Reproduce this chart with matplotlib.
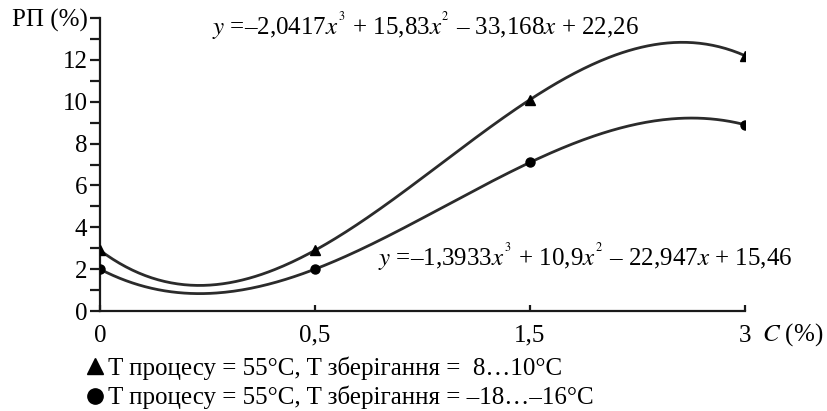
import numpy as np
import matplotlib
matplotlib.use("Agg")
import matplotlib.pyplot as plt
from matplotlib.lines import Line2D

plt.rcParams['font.family'] = ['Liberation Serif', 'DejaVu Serif']
plt.rcParams['mathtext.fontset'] = 'stix'

# ---- data ----
categories = ["0", "0,5", "1,5", "3"]
series_a = [2.9, 2.9, 10.1, 12.2]   # triangles
series_b = [2.0, 2.0, 7.1, 8.9]     # circles
label_a = "T процесу = 55°C, T зберігання =  8…10°C"
label_b = "T процесу = 55°C, T зберігання = –18…–16°C"
eq_a = r"$y$ =–2,0417$x^{{}^3}$ + 15,83$x^{{}^2}$ – 33,168$x$ + 22,26"
eq_b = r"$y$ =–1,3933$x^{{}^3}$ + 10,9$x^{{}^2}$ – 22,947$x$ + 15,46"
y_major = [0, 2, 4, 6, 8, 10, 12, 14]
y_labels = ["0", "2", "4", "6", "8", "10", "12", "РП (%)"]
y_minor = [1, 3, 5, 7, 9, 11, 13]

FS = 18
LC = "#2b2b2b"

fig = plt.figure(figsize=(8.28, 4.11), dpi=100)
ax = fig.add_axes([100/828, 100/411, 645/828, 293/411])

x = np.arange(1, len(categories) + 1)
xs = np.linspace(1, len(categories), 300)
for vals, mk, ms in [(series_a, '^', 6.5), (series_b, 'o', 6.5)]:
    coef = np.polyfit(x, vals, 3)
    ax.plot(xs, np.polyval(coef, xs), color=LC, lw=2, zorder=2)
    ax.plot(x, vals, ls='none', marker=mk, ms=ms, color='black', zorder=3)

ax.set_xlim(1, len(categories))
ax.set_ylim(0, 14)
ax.set_xticks(x)
ax.set_xticklabels(categories, fontsize=FS)
ax.set_yticks(y_major)
ax.set_yticklabels(y_labels, fontsize=FS)
ax.set_yticks(y_minor, minor=True)

for s in ['top', 'right']:
    ax.spines[s].set_visible(False)
for s in ['left', 'bottom']:
    ax.spines[s].set_linewidth(1.6)
    ax.spines[s].set_color('#1a1a1a')

ax.tick_params(axis='y', which='both', direction='out', length=7, width=1.6,
               color='#1a1a1a', pad=2)
ax.tick_params(axis='x', direction='in', length=4, width=1.6, color='#1a1a1a', pad=10)

ax.text(1.52, 13.19, eq_a, fontsize=FS, va='baseline', ha='left')
ax.text(2.293, 2.15, eq_b, fontsize=FS, va='baseline', ha='left')

fig.text(762/828, 1 - 335/411, "$C$ (%)", fontsize=FS, va='center', ha='left')

handles = [Line2D([], [], ls='none', marker='^', ms=11, color='black'),
           Line2D([], [], ls='none', marker='o', ms=11, color='black')]
fig.legend(handles, [label_a, label_b], loc='upper left',
           bbox_to_anchor=(88/828, 1 - 356/411), frameon=False, fontsize=FS,
           handlelength=0.6, handletextpad=0.2, labelspacing=0.25,
           borderaxespad=0, borderpad=0)

fig.savefig("out.png", dpi=100)
